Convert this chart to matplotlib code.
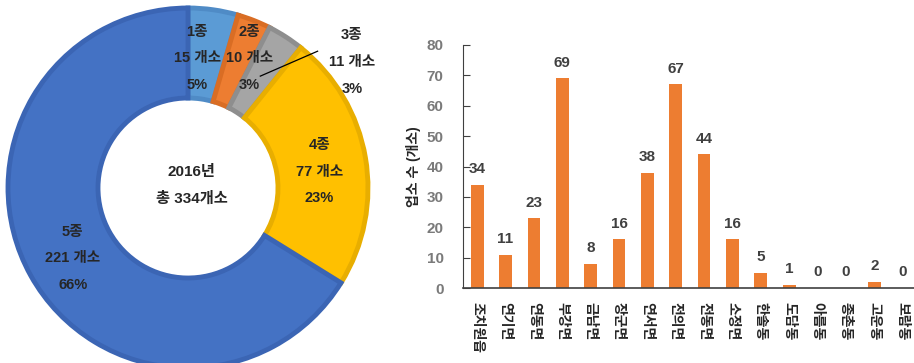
import matplotlib
matplotlib.use("Agg")
from matplotlib import pyplot as plt
import numpy as np

plt.rcParams['font.family'] = ['Liberation Sans', 'Noto Sans CJK KR', 'DejaVu Sans']

# donut: facilities by class, 2016
classes = ["1종", "2종", "3종", "4종", "5종"]
class_counts = [15, 10, 11, 77, 221]
class_pct = [5, 3, 3, 23, 66]
class_colors = ["#5B9BD5", "#ED7D31", "#A5A5A5", "#FFC000", "#4472C4"]
class_edges = ["#4F8BC6", "#D96D24", "#8E8E8E", "#E8AE00", "#3B65B4"]

# bar: facilities by district
districts = ["조치원읍", "연기면", "연동면", "부강면", "금남면", "장군면", "연서면", "전의면",
             "전동면", "소정면", "한솔동", "도담동", "아름동", "종촌동", "고운동", "보람동"]
district_counts = [34, 11, 23, 69, 8, 16, 38, 67, 44, 16, 5, 1, 0, 0, 2, 0]

W, H = 914, 363
fig = plt.figure(figsize=(W / 100, H / 100), dpi=100)

# ---- donut ----
cx, cy, r = 188, 175, 180
ax1 = fig.add_axes([(cx - r) / W, (cy - r) / H, 2 * r / W, 2 * r / H])
wedges, _ = ax1.pie(class_counts, colors=class_colors, startangle=90, counterclock=False,
                    radius=1.0, wedgeprops=dict(width=0.5, linewidth=3.5))
for w, ec in zip(wedges, class_edges):
    w.set_edgecolor(ec)
ax1.set_xlim(-1, 1)
ax1.set_ylim(-1, 1)
ax1.set_aspect("equal")
ax1.axis("off")

# label anchors (axes data units, radius = 1)
label_xy = [(0.05, 0.72), (0.34, 0.72), (0.91, 0.70), (0.73, 0.09), (-0.64, -0.39)]
for name, n, pct, (lx, ly) in zip(classes, class_counts, class_pct, label_xy):
    ax1.text(lx, ly, f"{name}\n{n} 개소\n{pct}%", ha="center", va="center", fontsize=10.5,
             fontweight="bold", color="#262626", linespacing=2.15)

# leader line for the small 3종 slice
w3 = wedges[2]
ang = np.deg2rad((w3.theta1 + w3.theta2) / 2)
ax1.plot([0.74 * np.cos(ang), 0.72], [0.74 * np.sin(ang), 0.76], color="black", lw=0.9)

ax1.text(0.02, 0.015, "2016년\n총 334개소", ha="center", va="center", fontsize=11,
         fontweight="bold", color="#262626", linespacing=2.2)

# ---- bars ----
ax2 = fig.add_axes([463 / W, 75 / H, (W - 463) / W, (288 - 45) / H])
x = np.arange(len(districts))
ax2.bar(x, district_counts, width=0.45, color="#ED7D31")
for xi, v in zip(x, district_counts):
    ax2.text(xi, v + 2.8, str(v), ha="center", va="bottom", fontsize=11,
             fontweight="bold", color="#404040")
ax2.set_xlim(-0.5, 15.4)
ax2.set_ylim(0, 80)
ax2.set_yticks(range(0, 81, 10))
ax2.set_xticks(x)
ax2.set_xticklabels(districts, rotation=-90, fontsize=10, fontweight="bold", color="#262626")
ax2.tick_params(axis="y", direction="in", length=5, labelsize=11, labelcolor="#7A7A7A",
                color="#404040", pad=14)
ax2.tick_params(axis="x", length=0, pad=10)
for lbl in ax2.get_yticklabels():
    lbl.set_fontweight("bold")
ax2.spines["top"].set_visible(False)
ax2.spines["right"].set_visible(False)
ax2.spines["left"].set_color("#404040")
ax2.spines["bottom"].set_color("#404040")
ax2.spines["bottom"].set_linewidth(1.2)
ax2.set_ylabel("업소 수 (개소)", fontsize=10, fontweight="bold", color="#262626", labelpad=4)

fig.savefig("out.png", dpi=100)
